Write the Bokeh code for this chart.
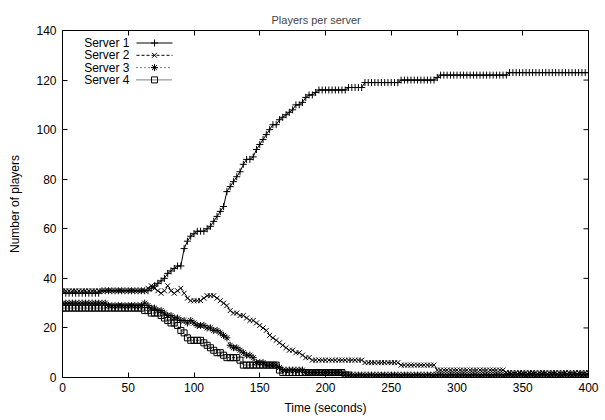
import numpy as np
from bokeh.plotting import figure
from bokeh.models import Range1d, FixedTicker, Label, LinearAxis
from bokeh.embed import file_html
from bokeh.resources import INLINE

# ---------------- data (sampled every 2.5 s) ----------------
time = np.arange(0, 400.1, 2.5)

server1 = ([34] * 12 + [35] * 15 +
           [36, 37, 38, 39, 40, 42, 43, 44, 45, 45, 52, 55, 57, 58, 59, 59, 59, 60,
            61, 63, 65, 67, 69, 75, 77, 79, 81, 83, 86, 88, 88, 89, 92, 94, 96, 98,
            100, 102, 102, 104, 105, 106, 107, 108, 110, 110, 111, 113, 114, 114,
            115, 116] +
           [116] * 8 + [117] * 5 + [119] * 11 + [120] * 11 + [121] + [122] * 21 + [123] * 25)

server2 = ([35] * 26 +
           [36, 37, 36, 35, 34, 35, 37, 35, 34, 35, 36, 34, 32, 31, 31, 31, 31, 32,
            33, 33, 33, 32, 31, 30, 29, 27, 26, 26, 25, 25, 24, 23, 23, 22, 21, 20,
            19, 17, 16, 15, 14, 13, 12, 11, 11, 10, 10, 9, 8, 8, 7, 7] +
           [7] * 14 + [6] * 11 + [5] * 11 + [3] * 21 + [2] * 26)

server3 = ([30] * 14 + [29] * 11 +
           [30, 29, 28, 28, 27, 27, 26, 25, 25, 24, 24, 23, 23, 22, 23, 22, 21, 21,
            21, 20, 20, 19, 19, 18, 17, 16, 13, 12, 12, 11, 10, 9, 9, 8, 6, 6, 6, 5,
            5, 5, 5, 4] +
           [3] * 7 + [2] * 12 + [1] * 75)

server4 = ([28] * 25 +
           [27, 27, 26, 26, 26, 25, 24, 23, 22, 22, 21, 19, 18, 16, 15, 15, 15, 15,
            14, 13, 12, 11, 10, 10, 9, 8, 8, 8, 8, 7, 5, 5, 5, 5, 5, 5, 5, 5, 5, 5,
            5, 3] +
           [2] * 19 + [1] * 2 + [0] * 73)

series_names = ["Server 1", "Server 2", "Server 3", "Server 4"]
x_ticks = [0, 50, 100, 150, 200, 250, 300, 350, 400]
y_ticks = [0, 20, 40, 60, 80, 100, 120, 140]

# ---------------- styling ----------------
FONT = "Liberation Sans"
markers = ["cross", "x", "asterisk", "square"]
dashes = ["solid", "3 2", "1 3", "1 1"]
msizes = [7, 7, 7, 6]

# layout (pixels)
W, H = 605, 420
L, R, T, B = 62, 17, 30, 43
X0, X1, Y0, Y1 = 0, 400, 0, 140
TICK = 5

p = figure(width=W, height=H, x_range=Range1d(X0, X1), y_range=Range1d(Y0, Y1),
           output_backend="svg", toolbar_location=None,
           min_border_left=L, min_border_right=R, min_border_top=T, min_border_bottom=B,
           x_axis_label="Time (seconds)", y_axis_label="Number of players",
           title="Players per server")
p.background_fill_color = "white"
p.border_fill_color = "white"
p.outline_line_color = "black"
p.outline_line_width = 1
p.xgrid.visible = False
p.ygrid.visible = False

p.title.align = "left"
p.title.offset = 209
p.title.text_font = FONT
p.title.text_font_size = "11px"
p.title.text_font_style = "normal"

p.xaxis.ticker = FixedTicker(ticks=x_ticks)
p.yaxis.ticker = FixedTicker(ticks=y_ticks)

for ax in p.axis:
    ax.major_tick_in = TICK
    ax.major_tick_out = 0
    ax.minor_tick_in = 0
    ax.minor_tick_out = 0
    ax.axis_line_color = "black"
    ax.major_tick_line_color = "black"
    ax.major_label_text_font = FONT
    ax.major_label_text_font_size = "12px"
    ax.major_label_text_color = "black"
    ax.axis_label_text_font = FONT
    ax.axis_label_text_font_size = "12px"
    ax.axis_label_text_font_style = "normal"
    ax.axis_label_text_color = "black"

p.xaxis.major_label_standoff = 5
p.yaxis.major_label_standoff = 6
p.xaxis.axis_label_standoff = 6
p.yaxis.axis_label_standoff = 11

# top border axis: inward ticks only, no labels (spaces the title up like gnuplot)
top_axis = LinearAxis(ticker=FixedTicker(ticks=x_ticks), major_tick_in=TICK,
                      major_tick_out=0, minor_tick_in=0, minor_tick_out=0,
                      major_label_text_color=None, major_label_text_font_size="8px",
                      major_label_standoff=0, axis_line_color="black")
p.add_layout(top_axis, "above")

data = [server1, server2, server3, server4]
for vals, mk, ds, ms in zip(data, markers, dashes, msizes):
    p.line(time, vals, line_color="black", line_width=1, line_dash=ds)
    p.scatter(time, vals, marker=mk, size=ms, line_color="black", line_width=1,
              fill_color=None)

# ---------------- layout helpers (pixel -> data) ----------------
fw = W - L - R
fh = H - T - B
dx_per_px = (X1 - X0) / fw
dy_per_px = (Y1 - Y0) / fh


def px_to_x(px):
    return X0 + (px - L) * dx_per_px


def py_to_y(py):
    return Y0 + (H - B - py) * dy_per_px


# mirrored inward ticks on the right border (gnuplot style)
p.segment(x0=[X1] * len(y_ticks), y0=y_ticks, x1=[X1 - TICK * dx_per_px] * len(y_ticks),
          y1=y_ticks, line_color="black", line_width=1)

# ---------------- gnuplot-style legend (label left, sample right) ----------------
leg_text_right = 129
leg_line_start, leg_line_end = 136, 172
leg_first_row, leg_row_step = 42.5, 12.3
for k, (name, mk, ds, ms) in enumerate(zip(series_names, markers, dashes, msizes)):
    yc = py_to_y(leg_first_row + k * leg_row_step)
    p.add_layout(Label(x=px_to_x(leg_text_right), y=yc, text=name,
                       text_align="right", text_baseline="middle",
                       text_font=FONT, text_font_size="12px", text_color="black"))
    p.line([px_to_x(leg_line_start), px_to_x(leg_line_end)], [yc, yc],
           line_color="black", line_width=1, line_dash=ds)
    p.scatter([px_to_x((leg_line_start + leg_line_end) / 2)], [yc], marker=mk,
              size=ms, line_color="black", line_width=1, fill_color=None)

open("out.html", "w").write(file_html(p, INLINE))
